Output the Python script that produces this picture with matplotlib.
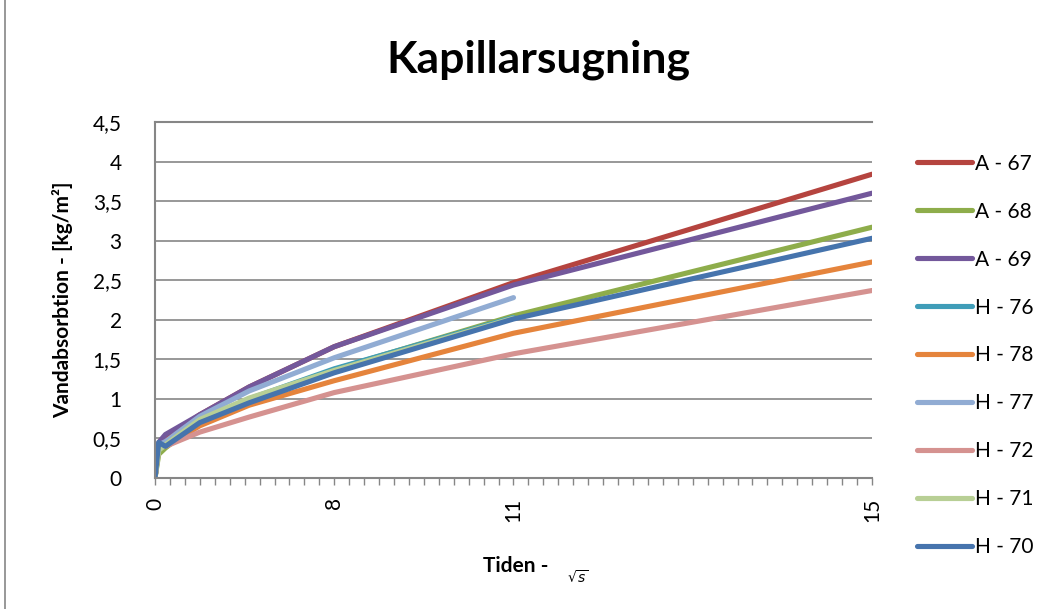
import numpy as np
import matplotlib.pyplot as plt
from matplotlib.lines import Line2D

plt.rcParams['font.family'] = ['Lato', 'DejaVu Sans']

# category positions (tick units) of the measurement points
x_full = [0, 0.25, 0.7, 3, 6.3, 12, 24, 48]
x_short = x_full[:7]

tick_labels = {0: "0", 12: "8", 24: "11", 48: "15"}

a67 = [0, 0.42, 0.50, 0.80, 1.15, 1.66, 2.47, 3.84]
a68 = [0, 0.30, 0.38, 0.72, 0.98, 1.37, 2.05, 3.17]
a69 = [0, 0.45, 0.55, 0.80, 1.15, 1.66, 2.44, 3.60]
h76 = [0, 0.40, 0.42, 0.72, 1.00, 1.38, 2.03]
h78 = [0, 0.40, 0.40, 0.66, 0.92, 1.23, 1.83, 2.73]
h77 = [0, 0.42, 0.46, 0.78, 1.10, 1.52, 2.28]
h72 = [0, 0.38, 0.40, 0.58, 0.77, 1.08, 1.57, 2.37]
h71 = [0, 0.35, 0.42, 0.74, 1.01, 1.36, 2.02]
h70 = [0, 0.45, 0.40, 0.70, 0.95, 1.33, 2.01, 3.03]

series = [
    ("A - 67", x_full, a67, "#B5443F"),
    ("A - 68", x_full, a68, "#8EAD4B"),
    ("A - 69", x_full, a69, "#73589B"),
    ("H - 76", x_short, h76, "#3F9DB8"),
    ("H - 78", x_full, h78, "#E5843C"),
    ("H - 77", x_short, h77, "#91ACD3"),
    ("H - 72", x_full, h72, "#D59290"),
    ("H - 71", x_short, h71, "#B8CF95"),
    ("H - 70", x_full, h70, "#4674AD"),
]

fs = 15

fig = plt.figure(figsize=(10.56, 6.09), dpi=100)
ax = fig.add_axes([155/1056, 1-478/609, (872-155)/1056, (478-122)/609])

for name, xs, ys, c in series:
    ax.plot(xs, ys, color=c, lw=3.7, solid_capstyle='round', solid_joinstyle='round', label=name)

ax.set_xlim(0, 48)
ax.set_ylim(0, 4.5)
ax.set_yticks(np.arange(0, 4.51, 0.5))
ax.set_yticklabels(["0", "0,5", "1", "1,5", "2", "2,5", "3", "3,5", "4", "4,5"], fontsize=fs)
ax.set_xticks(range(49))
ax.set_xticklabels([tick_labels.get(i, "") for i in range(49)], rotation=90, fontsize=fs)
ax.tick_params(axis='x', length=5, color='#868686', width=1, pad=9)
ax.tick_params(axis='y', length=0, pad=24)
ax.grid(axis='y', color='#868686', lw=1.2)
ax.set_axisbelow(True)
ax.spines['right'].set_visible(False)
for s in ['top', 'left', 'bottom']:
    ax.spines[s].set_color('#868686')
    ax.spines[s].set_linewidth(1.5)

ax.set_ylabel("Vandabsorbtion - [kg/m²]", fontsize=fs, fontweight='bold', labelpad=14)
fig.text(516/1056, 1-566/609, "Tiden -", fontsize=fs, fontweight='bold', ha='center', va='center')
fig.text(578/1056, 1-577/609, r"$\sqrt{s}$", fontsize=10, ha='center', va='center')
fig.text(538/1056, 1-60/609, "Kapillarsugning", fontsize=32, fontweight='bold', ha='center', va='center')

handles = [Line2D([], [], color=c, lw=3.7, solid_capstyle='round') for _, _, _, c in series]
fig.legend(handles, [s[0] for s in series], loc='upper left', bbox_to_anchor=(898/1056, 1-135/609),
           frameon=False, fontsize=fs, handlelength=2.65, handletextpad=0.15, labelspacing=1.34)

fig.add_artist(Line2D([5/1056, 5/1056], [0, 1], color='#868686', lw=1.2))

fig.savefig("out.png", dpi=100)
